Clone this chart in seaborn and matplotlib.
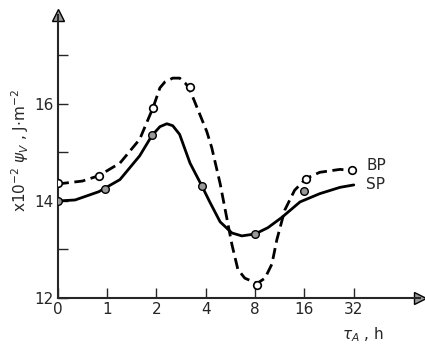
import numpy as np
import pandas as pd
import seaborn as sns
import matplotlib.pyplot as plt

# x positions are tick slots: 0,1,2,4,8,16,32 h -> slot 0..6
tick_pos = [0, 1, 2, 3, 4, 5, 6]
tick_labels = ["0", "1", "2", "4", "8", "16", "32"]

# measured points
bp_x = [0, 0.83, 1.93, 2.68, 4.04, 5.03, 5.96]
bp_y = [14.37, 14.52, 15.92, 16.35, 12.27, 14.46, 14.63]
sp_x = [0, 0.95, 1.91, 2.92, 4.0, 4.99]
sp_y = [14.0, 14.24, 15.35, 14.31, 13.32, 14.2]

# fitted curves
bp_cx = [0, 0.5, 0.83, 1.26, 1.66, 1.93, 2.07, 2.17, 2.33, 2.47, 2.58, 2.66,
         2.88, 3.02, 3.12, 3.29, 3.53, 3.65, 3.79, 4.04, 4.2, 4.34, 4.44,
         4.6, 4.8, 5.03, 5.31, 5.72, 5.96]
bp_cy = [14.35, 14.41, 14.52, 14.78, 15.27, 15.92, 16.33, 16.45, 16.53, 16.53,
         16.43, 16.33, 15.78, 15.43, 15.1, 14.36, 13.1, 12.59, 12.41, 12.3,
         12.41, 12.7, 13.2, 13.81, 14.22, 14.46, 14.59, 14.65, 14.63]
sp_cx = [0, 0.35, 0.83, 1.26, 1.66, 1.91, 2.07, 2.21, 2.33, 2.47, 2.58, 2.68,
         2.92, 3.08, 3.29, 3.53, 3.73, 4.0, 4.26, 4.54, 4.91, 5.31, 5.72, 6.0]
sp_cy = [14.0, 14.02, 14.19, 14.44, 14.93, 15.35, 15.53, 15.59, 15.55, 15.37,
         15.06, 14.78, 14.31, 13.98, 13.57, 13.34, 13.28, 13.32, 13.45, 13.66,
         13.98, 14.15, 14.28, 14.33]

sns.set_style("ticks")
plt.rcParams["font.family"] = ["DejaVu Sans"]

fig = plt.figure(figsize=(4.25, 3.49), dpi=100)
ax = fig.add_axes([0.136, 0.146, 0.852, 0.811])

curves = pd.concat([
    pd.DataFrame({"x": bp_cx, "y": bp_cy, "s": "BP"}),
    pd.DataFrame({"x": sp_cx, "y": sp_cy, "s": "SP"}),
])
sns.lineplot(data=curves, x="x", y="y", style="s", sort=False, color="black",
             linewidth=2, dashes={"BP": (4, 2), "SP": ""}, legend=False, ax=ax)
for ln in ax.lines:
    ln.set_solid_joinstyle("round")
    ln.set_dash_joinstyle("round")

sns.scatterplot(x=bp_x, y=bp_y, marker="o", s=30, facecolor="white",
                edgecolor="black", linewidth=1.2, zorder=5, ax=ax)
sns.scatterplot(x=sp_x, y=sp_y, marker="o", s=30, color="#999999",
                edgecolor="black", linewidth=1.0, zorder=5, ax=ax)

ax.set_xlim(0, 7.34)
ax.set_ylim(12, 17.83)
ax.set_xticks(tick_pos)
ax.set_xticklabels(tick_labels)
ax.set_yticks([12, 13, 14, 15, 16, 17])
ax.set_yticklabels(["12", "", "14", "", "16", ""])
ax.tick_params(direction="in", length=7, width=1, labelsize=11, pad=3)
sns.despine(ax=ax)
for sp in ["left", "bottom"]:
    ax.spines[sp].set_linewidth(1.5)

# axis arrows
ax.plot(1, 0, ">", transform=ax.transAxes, clip_on=False, ms=8,
        mfc="#999999", mec="black")
ax.plot(0, 1, "^", transform=ax.transAxes, clip_on=False, ms=8,
        mfc="#999999", mec="black")

ax.set_xlabel("")
ax.set_ylabel("")
fig.text(0.047, 0.57, r"x10$^{-2}$ $\psi_V$ , J$\cdot$m$^{-2}$", rotation=90,
         ha="center", va="center", fontsize=11)
fig.text(0.855, 0.04, r"$\tau_A$ , h", ha="center", va="center", fontsize=11)
ax.text(6.25, 14.72, "BP", fontsize=11, va="center")
ax.text(6.25, 14.33, "SP", fontsize=11, va="center")

fig.savefig("out.png", dpi=100)
